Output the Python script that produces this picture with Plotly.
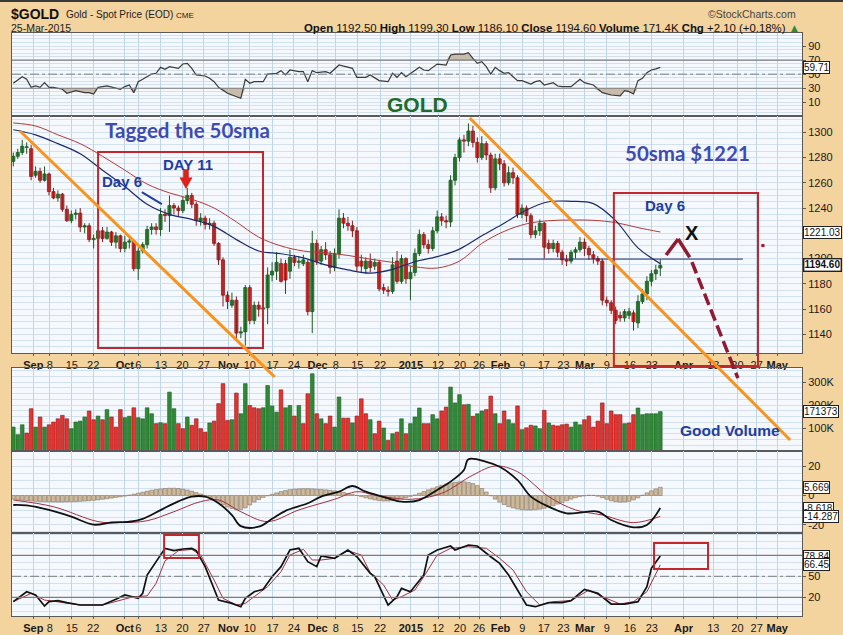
import plotly.graph_objects as go

# ---------------- data (daily bars, index 0 = 26-Aug-2014 ... 145 = 25-Mar-2015) ----------------
opens = [1277,1281,1284,1288,1287,1266,1269,1262,1267,1253,
         1248,1251,1239,1230,1235,1236,1225,1226,1215,1216,
         1222,1216,1221,1213,1218,1208,1213,1214,1192,1206,
         1211,1223,1225,1223,1235,1234,1242,1240,1238,1246,
         1250,1243,1230,1232,1227,1228,1212,1199,1171,1163,
         1167,1141,1142,1177,1151,1163,1160,1161,1187,1190,
         1196,1196,1190,1201,1197,1196,1197,1158,1212,1198,
         1207,1203,1193,1204,1232,1228,1226,1222,1198,1192,
         1198,1194,1197,1177,1175,1174,1198,1182,1200,1184,
         1189,1204,1219,1211,1208,1222,1233,1230,1229,1262,
         1280,1294,1293,1301,1292,1280,1291,1282,1256,1279,
         1275,1260,1268,1264,1235,1240,1234,1219,1222,1228,
         1212,1208,1212,1205,1199,1198,1205,1207,1213,1208,
         1203,1200,1198,1167,1165,1159,1155,1153,1155,1157,
         1149,1166,1172,1182,1188,1192.5]
highs = [1284,1287,1294,1292,1290,1273,1272,1273,1268,1256,
         1254,1252,1242,1238,1239,1240,1228,1228,1219,1224,
         1225,1225,1222,1221,1219,1218,1216,1215,1209,1213,
         1226,1228,1228,1240,1239,1250,1244,1242,1249,1256,
         1252,1245,1236,1234,1232,1230,1213,1201,1174,1173,
         1170,1146,1179,1179,1166,1166,1165,1193,1197,1205,
         1200,1199,1207,1203,1202,1203,1199,1222,1215,1210,
         1213,1206,1208,1239,1236,1233,1230,1225,1203,1201,
         1204,1200,1199,1180,1178,1201,1206,1203,1201,1194,
         1208,1223,1221,1215,1225,1238,1236,1234,1266,1283,
         1296,1298,1307,1305,1296,1297,1293,1284,1283,1283,
         1278,1273,1272,1266,1243,1242,1236,1226,1231,1229,
         1215,1215,1214,1207,1203,1207,1209,1217,1216,1210,
         1206,1202,1200,1170,1167,1162,1158,1160,1161,1159,
         1171,1176,1186,1191,1195,1199.3]
lows = [1273,1279,1282,1283,1262,1264,1260,1261,1250,1247,
        1245,1237,1229,1228,1231,1221,1220,1213,1208,1212,
        1213,1215,1210,1208,1205,1205,1208,1190,1183,1204,
        1208,1219,1219,1218,1229,1221,1235,1233,1236,1243,
        1240,1226,1226,1223,1223,1210,1195,1162,1160,1161,
        1137,1137,1131,1148,1148,1154,1150,1148,1182,1183,
        1181,1172,1184,1194,1192,1194,1155,1141,1195,1195,
        1199,1188,1190,1200,1224,1222,1217,1190,1189,1188,
        1189,1191,1174,1172,1170,1172,1180,1180,1180,1167,
        1186,1202,1208,1204,1206,1220,1226,1224,1225,1258,
        1277,1284,1289,1288,1276,1278,1278,1252,1254,1270,
        1257,1258,1259,1232,1232,1229,1216,1216,1218,1200,
        1204,1205,1201,1195,1194,1196,1200,1205,1202,1199,
        1196,1195,1163,1162,1156,1148,1150,1150,1152,1143,
        1145,1164,1167,1178,1183,1186.1]
closes = [1281,1284,1289,1288.5,1265,1269,1262,1267,1253,1248,
          1251,1239,1230,1235,1236,1225,1226,1215,1216,1222,
          1216,1221,1213,1218,1208,1213,1214,1192,1206,1211,
          1223,1225,1223,1235,1234,1242,1240,1238,1246,1250,
          1243,1230,1232,1227,1228,1212,1199,1171,1166,1167,
          1141,1142,1177,1151,1163,1160,1161,1187,1190,1197,
          1182,1183,1201,1197,1198,1199,1158,1212,1198,1207,
          1203,1193,1204,1232,1228,1226,1222,1194,1194,1198,
          1193,1197,1176,1175,1174,1195,1182,1200,1184,1189,
          1204,1219,1211,1208,1222,1233,1230,1229,1262,1280,
          1294,1293,1301,1292,1280,1291,1282,1256,1279,1275,
          1260,1268,1264,1235,1240,1234,1219,1222,1228,1209,
          1208,1212,1205,1199,1198,1205,1207,1213,1208,1203,
          1200,1198,1167,1165,1159,1151,1153,1158,1158,1150,
          1166,1172,1182,1188,1191,1194.6]

volume_k = [104,71,114,78,184,104,148,104,114,126,
            140,155,140,97,126,130,148,174,136,152,
            136,180,148,104,180,145,151,188,145,140,
            188,162,119,123,119,256,184,119,97,148,
            112,140,97,82,122,130,206,293,133,136,
            252,162,293,198,188,184,188,285,196,169,
            266,188,198,152,198,119,249,336,162,140,
            119,152,104,235,143,143,122,152,227,162,
            136,75,130,100,46,75,82,140,75,119,
            148,187,119,119,158,140,174,191,278,209,
            245,201,203,151,162,174,180,239,162,119,
            174,136,119,196,93,101,112,109,97,177,
            122,112,109,114,117,104,126,114,136,152,
            104,130,209,119,174,158,158,119,122,158,
            187,158,162,162,162,171.373]
volume_dir = ("GGGRRGRGRR" "RRRGGGGRRG" "RGRRRGGRGG" "GGRGRGGRRG" "RRRRGRRRRG"
              "RGGRRRGGGG" "RGGRGRRGRG" "RRGGRRGRRR" "GRRGRGRGRG" "GGRRGGRRGG"
              "GRGRGGRRGR" "RGGRGRRGGR" "GRRRRGGGRR" "RRRRRRRGRR" "GGGGGG")

rsi_idx = [0,2,3,4,5,6,7,8,9,11,12,14,16,17,18,19,21,22,24,25,26,27,28,29,31,32,33,34,35,37,
           38,39,40,41,43,44,45,46,48,49,50,51,52,53,54,56,57,59,60,61,62,64,65,66,67,68,70,71,73,75,
           76,77,79,80,82,84,85,86,87,88,90,91,92,93,95,97,98,99,101,102,103,104,105,106,107,108,109,110,111,113,
           114,116,117,118,119,121,122,123,125,126,127,128,130,132,133,134,136,137,138,139,140,141,142,143,144,145]
rsi_val = [37,46.4,42.7,31.3,33.2,31.3,37.9,31.3,31.3,28.5,22.8,26.6,23.7,23.7,21.8,31.3,33.2,31.3,28.5,32.3,34.6,23.7,39.3,42.7,50.2,51.2,59.7,56.9,60.6,58.3,
           64.4,65.4,58.3,48.8,47.4,44.1,39.3,31.3,22.8,20.4,18,15.7,42.7,37,39.3,39.3,50.2,51.2,55,48.8,55.9,53.6,53.6,39.3,55,52.1,53.6,51.2,63,59.7,
           58.3,45.5,45.5,48.8,40.8,39.3,51.2,45.5,52.1,46.4,55.9,59.7,55.9,55,64.4,63,77.2,78.6,78.6,80.5,72.5,65.4,67.7,60.6,50.2,59.7,55,51.2,52.1,40.8,
           40.8,36,39.3,40.8,34.6,37.9,33.2,32.2,32.2,37,42.7,37.9,34.6,23.7,21.8,20.4,19,26.6,25.1,21.8,40.8,44.1,52.1,55.9,57.5,59.71]

ma_idx = [0,5,10,15,20,25,30,35,40,45,50,55,60,65,70,75,80,85,90,95,100,105,110,115,120,125,130,135,140,145]
sma50_val = [1307.4,1305,1298,1291,1281,1270,1259,1252,1247,1240,1229,1217,1210,1206,1204.5,
             1202.5,1199.5,1197,1193.5,1192.5,1198,1212,1221.5,1227.5,1230,1230.5,1230.3,1228.5,1224.5,1221.03]
ma_blue_val = [1302,1298,1291,1283,1270,1257,1243,1235,1231,1225.5,1215,1206,1203.8,1200.5,1195,
               1191,1188.5,1191.5,1197.5,1201.5,1207.5,1218,1228,1238.5,1245,1245.3,1243.5,1230,1208.5,1196]

macd_idx = [0,3,8,13,18,22,26,29,33,37,40,43,46,49,51,55,58,61,66,69,73,76,79,84,87,91,95,98,101,102,106,109,113,116,120,124,127,131,134,139,142,145]
macd_val = [-6.5,-6.8,-9.9,-14.5,-20.0,-18.5,-18.0,-16.0,-10.0,-4.0,-0.8,-0.8,-5.3,-13.4,-21.0,-21.4,-16.0,-10.5,-5.3,-0.8,2.6,6.5,2.6,-1.9,-4.2,-3.1,3.8,9.5,17.5,24.8,23.1,19.7,10.6,-0.8,-7.7,-12.2,-11.8,-11.0,-16.8,-21.8,-20.2,-8.618]
signal_idx = [0,9,19,24,30,36,42,46,51,57,64,72,77,81,89,96,103,108,113,120,126,132,139,145]
signal_val = [-3.1,-7.7,-17.9,-18.6,-17.3,-11.1,-4.2,-3.1,-11.1,-17.9,-9.9,-2.6,2.6,0.3,-2.6,1.5,14.0,20.2,16.3,-0.8,-9.9,-13.4,-18.6,-14.287]
macd_hist = [-2.5,-3,-3.3,-3.5,-3.8,-4,-4.2,-4.3,-4.4,-4.5,
             -4.5,-4.5,-4.4,-4.3,-4.2,-4.0,-3.8,-3.6,-3.3,-3.0,
             -2.6,-2.2,-1.8,-1.3,-0.9,-0.4,0.3,0.9,1.6,2.3,
             3.0,3.6,4.1,4.5,4.8,5.0,5.0,4.8,4.4,3.8,
             3.0,2.0,1.0,0.1,-1.2,-2.8,-4.5,-6.2,-7.8,-9.0,
             -9.8,-9.6,-8.5,-6.5,-4.5,-2.8,-1.3,-0.2,0.8,1.8,
             2.7,3.4,4.0,4.4,4.6,4.7,4.7,4.6,4.4,4.2,
             3.9,3.6,3.2,2.7,2.1,1.4,0.7,0.0,-0.8,-1.6,
             -2.4,-3.0,-3.5,-3.8,-3.8,-3.5,-3.0,-2.3,-1.5,-0.6,
             0.4,1.5,2.7,3.9,5.0,6.0,7.0,7.9,8.6,9.1,
             9.4,9.4,9.0,8.2,6.8,4.8,2.4,-0.2,-2.5,-4.5,
             -6.2,-7.6,-8.6,-9.3,-9.8,-10.0,-10.0,-9.8,-9.4,-8.8,
             -8.0,-7.0,-5.9,-4.8,-3.6,-2.5,-1.5,-0.7,-0.3,0.2,
             0.1,-0.5,-1.5,-2.6,-3.6,-4.3,-4.6,-4.5,-4.0,-3.0,
             -1.6,0.2,1.8,3.2,4.5,5.669]

stoch_k_idx = [0,3,5,7,8,10,12,15,18,20,23,25,28,29,30,32,34,36,38,40,41,43,45,46,49,51,52,54,56,58,60,62,64,66,68,69,72,75,77,80,81,83,84,86,87,89,92,93,95,98,99,102,104,107,109,111,113,115,117,120,123,125,128,131,134,137,140,142,143,145]
stoch_k_val = [13.8,28,23.3,7.6,13.8,15.2,12.3,9,9,9,17.1,23.3,18.5,25.7,51.9,70.9,89.9,86.6,89,90,86.6,63.8,32.8,16.1,11.4,6.6,18.5,28,31.4,49.5,63.8,87.6,90,70.9,63.8,79,75.7,87.6,78,54.2,49.5,23.3,9,20.9,32.8,28,51.9,80.4,87.6,93.3,87.6,94.7,93.3,78,68.5,51.9,30.4,9,6.6,12.3,12.3,15.2,31.4,25.7,10.4,10.4,13.8,35.2,61.4,78.84]
stoch_d_idx = [0,4,7,10,15,20,24,27,30,32,34,37,40,42,45,47,50,52,55,57,60,62,65,67,69,72,75,78,80,83,85,87,90,92,95,98,102,106,109,112,115,118,121,125,129,132,136,139,142,145]
stoch_d_val = [13.8,25.7,16.1,13.8,9,9,16.1,20.9,22,40,72,86.6,88.5,80.4,44.7,18.5,9,11.4,25.7,35.2,56.6,80.4,88.5,73.3,73.3,75.7,86.6,80.4,55.2,37.6,16.1,20.9,30.4,49.5,80.4,90,92.3,90,75.7,59,28,9,13.8,15.2,30.4,20.9,10.4,13.8,28,66.45]

tick_pos = [4.5,8.2,13.1,17.9,25.0,28.0,33.1,37.9,42.7,48.2,53.0,58.1,62.9,68.2,72.3,77.1,82.2,89.1,
            95.2,100.1,104.4,109.2,114.1,118.9,123.3,128.1,133.0,138.2,143.1,150.2,156.9,162.3,166.6,171.2]
tick_text = ["Sep","8","15","22","Oct","6","13","20","27","Nov","10","17","24","Dec","8","15","22","2015",
             "12","20","26","Feb","9","17","23","Mar","9","16","23","Apr","13","20","27","May"]
bold_ticks = {"Sep","Oct","Nov","Dec","2015","Feb","Mar","Apr","May"}

# ---------------- geometry / style ----------------
XR = [-0.29, 176.76]
D_RSI, R_RSI = [0.8576, 1.0], [-9.5, 108.5]
D_PR, R_PR = [0.4511, 0.8576], [1125.2, 1312.9]
D_VOL, R_VOL = [0.2830, 0.4254], [0, 361]
D_MACD, R_MACD = [0.1424, 0.2830], [-25.7, 30.5]
D_STO, R_STO = [0.0, 0.1424], [-6.7, 111.9]

TAN = "#F3D39E"
PANEL = "#F5F8FC"
HGRID = "#D3E1EE"
VGRID = "#BFD5E8"
BORDER = "#5A5A5A"
GREEN, GREEN_LN = "#2E8B35", "#1C5A22"
RED, RED_LN = "#E8322E", "#8A1A1A"
BOXRED = "#C1272D"
ORANGE = "#F7941D"
DKRED = "#8E1B32"
TEXTBLUE = "#1F3EA0"
SLATE = "#3F4BB0"
FONT = "Liberation Sans, Arial, sans-serif"

W, H = 843, 635
ML, MR, MT, MB = 12, 41, 33, 19
PW, PH = W - ML - MR, H - MT - MB


def P(i, p):
    """(bar index, price) -> paper coords (extends linearly outside the price panel)."""
    return ((i - XR[0]) / (XR[1] - XR[0]),
            D_PR[0] + (p - R_PR[0]) / (R_PR[1] - R_PR[0]) * (D_PR[1] - D_PR[0]))


def HP(px, py):
    """header pixel -> paper"""
    return (px - ML) / PW, (H - MB - py) / PH


fig = go.Figure()
N = len(closes)
idx = list(range(N))

# ---------------- RSI ----------------
n_r = len(rsi_val)
fig.add_trace(go.Scatter(x=rsi_idx, y=[30] * n_r, mode="lines", line=dict(width=0), xaxis="x", yaxis="y", hoverinfo="skip"))
fig.add_trace(go.Scatter(x=rsi_idx, y=[min(v, 30) for v in rsi_val], mode="lines", line=dict(width=0),
                         fill="tonexty", fillcolor="#C9BBAA", xaxis="x", yaxis="y", hoverinfo="skip"))
fig.add_trace(go.Scatter(x=rsi_idx, y=[70] * n_r, mode="lines", line=dict(width=0), xaxis="x", yaxis="y", hoverinfo="skip"))
fig.add_trace(go.Scatter(x=rsi_idx, y=[max(v, 70) for v in rsi_val], mode="lines", line=dict(width=0),
                         fill="tonexty", fillcolor="#C9BBAA", xaxis="x", yaxis="y", hoverinfo="skip"))
fig.add_trace(go.Scatter(x=rsi_idx, y=rsi_val, mode="lines", line=dict(color="#3A3A3A", width=1.2),
                         xaxis="x", yaxis="y"))

# ---------------- price candles ----------------
for up, fill, ln in ((True, GREEN, GREEN_LN), (False, RED, RED_LN)):
    sel = [i for i in idx if (closes[i] >= opens[i]) == up]
    wx, wy = [], []
    for i in sel:
        wx += [i, i, None]
        wy += [lows[i], highs[i], None]
    fig.add_trace(go.Scatter(x=wx, y=wy, mode="lines", line=dict(color=ln, width=1),
                             xaxis="x2", yaxis="y2", hoverinfo="skip"))
    fig.add_trace(go.Bar(x=sel, base=[min(opens[i], closes[i]) for i in sel],
                         y=[max(abs(closes[i] - opens[i]), 0.6) for i in sel], width=0.7,
                         marker=dict(color=fill, line=dict(color=ln, width=0.8)),
                         xaxis="x2", yaxis="y2"))

fig.add_trace(go.Scatter(x=ma_idx, y=sma50_val, mode="lines", line=dict(color="#B23A3A", width=1, shape="spline"),
                         xaxis="x2", yaxis="y2"))
fig.add_trace(go.Scatter(x=ma_idx, y=ma_blue_val, mode="lines", line=dict(color="#1C2A6C", width=1.2, shape="spline"),
                         xaxis="x2", yaxis="y2"))

# ---------------- volume ----------------
vcol = [GREEN if d == "G" else RED for d in volume_dir]
vln = [GREEN_LN if d == "G" else RED_LN for d in volume_dir]
fig.add_trace(go.Bar(x=list(range(len(volume_k))), y=volume_k, width=0.82,
                     marker=dict(color=vcol, line=dict(color=vln, width=0.6)),
                     xaxis="x3", yaxis="y3"))

# ---------------- MACD ----------------
fig.add_trace(go.Bar(x=list(range(len(macd_hist))), y=macd_hist, width=0.85,
                     marker=dict(color="#CDBA9C", line=dict(color="#7A6650", width=0.5)),
                     xaxis="x4", yaxis="y4"))
fig.add_trace(go.Scatter(x=signal_idx, y=signal_val, mode="lines", line=dict(color="#A3303C", width=1, shape="spline"),
                         xaxis="x4", yaxis="y4"))
fig.add_trace(go.Scatter(x=macd_idx, y=macd_val, mode="lines", line=dict(color="#111111", width=1.8, shape="spline"),
                         xaxis="x4", yaxis="y4"))

# ---------------- Stochastics ----------------
fig.add_trace(go.Scatter(x=stoch_d_idx, y=stoch_d_val, mode="lines", line=dict(color="#A3303C", width=1),
                         xaxis="x5", yaxis="y5"))
fig.add_trace(go.Scatter(x=stoch_k_idx, y=stoch_k_val, mode="lines", line=dict(color="#111111", width=1.7),
                         xaxis="x5", yaxis="y5"))

# ---------------- axes ----------------
ttext = ["<b>%s</b>" % t if t in bold_ticks else t for t in tick_text]


def xax(anchor, labels):
    d = dict(range=XR, domain=[0, 1], anchor=anchor, tickmode="array", tickvals=tick_pos, ticktext=ttext,
             showticklabels=labels, tickangle=0, automargin=False,
             showgrid=True, gridcolor=VGRID, gridwidth=1, zeroline=False,
             showline=True, linecolor=BORDER, linewidth=1, mirror=True,
             ticks="outside" if labels else "", ticklen=2, tickcolor=BORDER,
             tickfont=dict(family=FONT, size=11, color="#1A1A1A"), fixedrange=True)
    if anchor != "y":
        d["matches"] = "x"
    return d


def yax(anchor, dom, rng, vals, texts, minor_dtick):
    return dict(domain=dom, range=rng, anchor=anchor, side="right", tickmode="array", tickvals=vals,
                ticktext=texts, automargin=False, showgrid=True, gridcolor=HGRID, zeroline=False, showline=True,
                linecolor=BORDER, linewidth=1, mirror=True, ticks="outside", ticklen=3, tickcolor=BORDER,
                tickfont=dict(family=FONT, size=11, color="#1A1A1A"), fixedrange=True,
                minor=dict(tickmode="linear", tick0=0, dtick=minor_dtick, showgrid=True, gridcolor=HGRID, ticks=""))


price_ticks = [1140, 1160, 1180, 1200, 1220, 1240, 1260, 1280, 1300]
fig.update_layout(
    xaxis=xax("y", False), xaxis2=xax("y2", True), xaxis3=xax("y3", False),
    xaxis4=xax("y4", False), xaxis5=xax("y5", True),
    yaxis=yax("x", D_RSI, R_RSI, [10, 30, 50, 70, 90], ["10", "30", "50", "70", "90"], 5),
    yaxis2=yax("x2", D_PR, R_PR, price_ticks, [str(v) for v in price_ticks], 5),
    yaxis3=yax("x3", D_VOL, R_VOL, [100, 200, 300], ["100K", "200K", "300K"], 25),
    yaxis4=yax("x4", D_MACD, R_MACD, [-20, 0, 20], ["-20", "0", "20"], 5),
    yaxis5=yax("x5", D_STO, R_STO, [20, 50, 80], ["20", "50", "80"], 10),
)

# ---------------- shapes ----------------
shapes = []
for yv, dash in ((30, "solid"), (70, "solid"), (50, "dashdot")):
    shapes.append(dict(type="line", xref="paper", x0=0, x1=1, yref="y", y0=yv, y1=yv,
                       line=dict(color="#7D7D7D", width=1.2 if dash == "solid" else 1, dash=dash)))
for yv, dash in ((20, "solid"), (80, "solid"), (50, "dashdot")):
    shapes.append(dict(type="line", xref="paper", x0=0, x1=1, yref="y5", y0=yv, y1=yv,
                       line=dict(color="#7D7D7D", width=1.2 if dash == "solid" else 1, dash=dash)))

# horizontal support line at 1200
shapes.append(dict(type="line", xref="x2", yref="y2", x0=110.9, x1=163.5, y0=1199.6, y1=1199.6,
                   line=dict(color="#1C2A6C", width=1)))


def seg(a, b, color, width, dash="solid"):
    (x0, y0), (x1, y1) = P(*a), P(*b)
    return dict(type="line", xref="paper", yref="paper", x0=x0, y0=y0, x1=x1, y1=y1,
                line=dict(color=color, width=width, dash=dash))


def rect(a, b, color, width):
    (x0, y0), (x1, y1) = P(*a), P(*b)
    return dict(type="rect", xref="paper", yref="paper", x0=x0, y0=y0, x1=x1, y1=y1,
                line=dict(color=color, width=width), fillcolor="rgba(0,0,0,0)")


shapes.append(rect((19.0, 1284.4), (55.96, 1129.1), BOXRED, 2))
shapes.append(rect((134.6, 1251.9), (166.9, 1114.9), BOXRED, 2))
shapes.append(seg((1.5, 1301.0), (58.6, 1106.2), ORANGE, 3))
shapes.append(seg((102.3, 1311.3), (174.1, 1056.3), ORANGE, 3))
shapes.append(seg((28.8, 1252.7), (33.3, 1243.2), TEXTBLUE, 2))
# projected path
shapes.append(seg((146.3, 1202.8), (149.0, 1215.5), DKRED, 3.5))
shapes.append(seg((149.0, 1215.5), (151.6, 1201.0), DKRED, 3.5))
shapes.append(seg((152.1, 1197.2), (162.4, 1105.3), DKRED, 3.5, "12px,5px"))
shapes.append(dict(type="rect", xref="x2", yref="y2", x0=167.65, x1=168.35, y0=1209.1, y1=1211.5,
                   fillcolor=DKRED, line=dict(width=0)))
# red arrow (DAY 11)
ax_, hw, sw = 38.7, 1.35, 0.55
shapes.append(dict(type="path", xref="x2", yref="y2",
                   path=f"M {ax_-sw},1270.5 L {ax_+sw},1270.5 L {ax_+sw},1264 L {ax_+hw},1264 "
                        f"L {ax_},1255.5 L {ax_-hw},1264 L {ax_-sw},1264 Z",
                   fillcolor="#E3201B", line=dict(color="#C01010", width=0.5)))
# stochastic boxes
shapes.append(dict(type="rect", xref="x5", yref="y5", x0=33.8, x1=41.6, y0=76.1, y1=109,
                   line=dict(color=BOXRED, width=2)))
shapes.append(dict(type="rect", xref="x5", yref="y5", x0=143.6, x1=155.7, y0=60.4, y1=97.6,
                   line=dict(color=BOXRED, width=2)))
# dark top edge
shapes.append(dict(type="rect", xref="paper", yref="paper", x0=HP(0, 0)[0], x1=HP(W, 0)[0],
                   y0=HP(0, 2)[1], y1=HP(0, 0)[1], fillcolor="#3A3A3A", line=dict(width=0)))

# ---------------- annotations ----------------
ann = []


def txt(x, y, s, xref, yref, size, color, family=FONT, xanchor="center", yanchor="middle"):
    ann.append(dict(x=x, y=y, xref=xref, yref=yref, text=s, showarrow=False, xanchor=xanchor,
                    yanchor=yanchor, font=dict(family=family, size=size, color=color)))


txt(39.1, 1301.7, "<b>Tagged the 50sma</b>", "x2", "y2", 20.5, SLATE, "Lato, Open Sans, sans-serif")
txt(151.2, 1284.0, "<b>50sma $1221</b>", "x2", "y2", 20.5, SLATE, "Lato, Open Sans, sans-serif")
txt(39.1, 1274.2, "<b>DAY 11</b>", "x2", "y2", 15, TEXTBLUE)
txt(24.4, 1261.3, "<b>Day 6</b>", "x2", "y2", 15, TEXTBLUE)
txt(146.0, 1242.4, "<b>Day 6</b>", "x2", "y2", 15, TEXTBLUE)
txt(152.1, 1220.2, "<b>X</b>", "x2", "y2", 20, "#111111")
txt(90.6, 6.9, "<b>GOLD</b>", "x", "y", 21, "#1E6B2C")
txt(160.6, 88, "<b>Good Volume</b>", "x3", "y3", 15.5, TEXTBLUE)

# header
hx, hy = HP(9, 14)
txt(hx, hy, "<b>$GOLD</b>", "paper", "paper", 14, "#111", xanchor="left")
hx, hy = HP(64, 15)
txt(hx, hy, "Gold - Spot Price (EOD) <span style='font-size:8px'>CME</span>", "paper", "paper", 10, "#222",
    xanchor="left")
hx, hy = HP(9, 28)
txt(hx, hy, "25-Mar-2015", "paper", "paper", 10.5, "#222", xanchor="left")
hx, hy = HP(798, 14)
txt(hx, hy, "©StockCharts.com", "paper", "paper", 10.5, "#444", xanchor="right")
hx, hy = HP(802, 28)
txt(hx, hy, ("<b>Open</b> %.2f <b>High</b> %.2f <b>Low</b> %.2f <b>Close</b> %.2f "
             "<b>Volume</b> %.1fK <b>Chg</b> +2.10 (+0.18%%) <span style='color:#2E8B35'>▲</span>")
    % (opens[-1], highs[-1], lows[-1], closes[-1], volume_k[-1]),
    "paper", "paper", 11.4, "#111", xanchor="right")


# right-hand value boxes
def vbox(yref, yv, s, bold=False):
    ann.append(dict(x=1, xref="paper", xanchor="left", xshift=1, y=yv, yref=yref, yanchor="middle",
                    text=("<b>%s</b>" % s) if bold else s, showarrow=False, bgcolor="white",
                    bordercolor="#222", borderwidth=1.4 if bold else 1, borderpad=0,
                    font=dict(family=FONT, size=10, color="#111")))


vbox("y", rsi_val[-1], "%.2f" % rsi_val[-1])
vbox("y2", sma50_val[-1], "%.2f" % sma50_val[-1])
vbox("y2", closes[-1], "%.2f" % closes[-1], True)
vbox("y3", volume_k[-1], "%d" % round(volume_k[-1] * 1000))
vbox("y4", macd_hist[-1], "%.3f" % macd_hist[-1])
vbox("y4", macd_val[-1], "%.3f" % macd_val[-1])
vbox("y4", signal_val[-1], "%.3f" % signal_val[-1])
vbox("y5", stoch_k_val[-1], "%.2f" % stoch_k_val[-1])
vbox("y5", stoch_d_val[-1], "%.2f" % stoch_d_val[-1])

fig.update_layout(
    width=W, height=H, margin=dict(l=ML, r=MR, t=MT, b=MB, autoexpand=False),
    paper_bgcolor=TAN, plot_bgcolor=PANEL, showlegend=False, barmode="overlay",
    hovermode=False, shapes=shapes, annotations=ann,
)

fig.write_html("out.html", config={"displayModeBar": False, "staticPlot": True},
               post_script="document.body.style.margin='0px';document.body.style.padding='0px';"
                           "document.body.style.overflow='hidden';")
